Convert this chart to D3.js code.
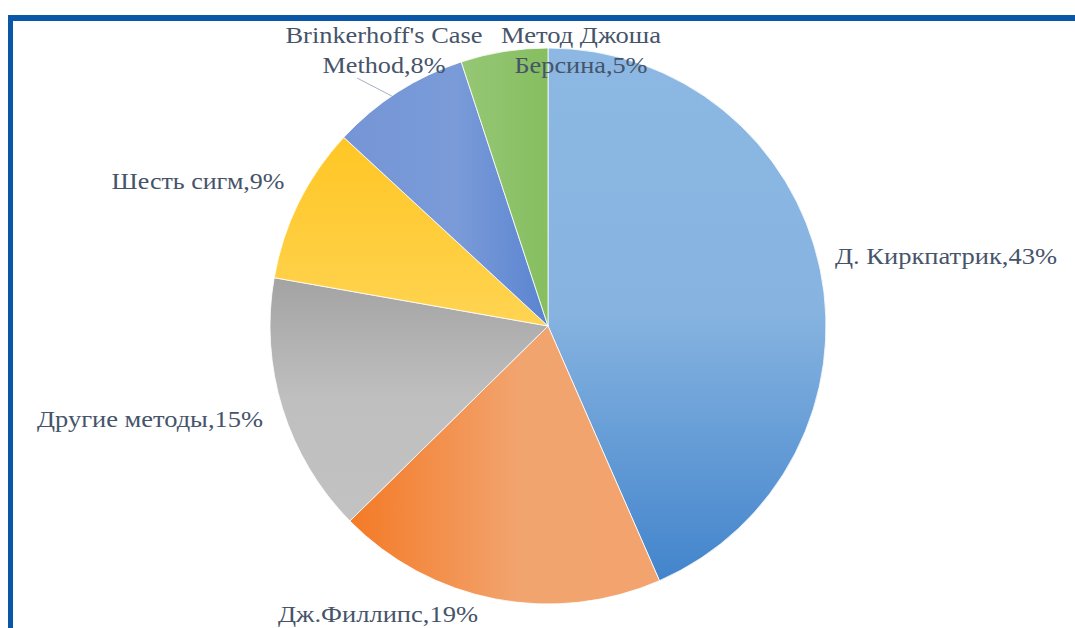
<!DOCTYPE html>
<html>
<head>
<meta charset="utf-8">
<script src="https://cdn.jsdelivr.net/npm/d3@7/dist/d3.min.js"></script>
<style>
  body { margin: 0; background: #fff; }
  .lbl { font-family: 'Liberation Serif', 'Tinos', 'Times New Roman', 'Noto Serif', 'DejaVu Serif', serif; font-size: 24px; fill: #46546a; }
</style>
</head>
<body>
<div id="chart"></div>
<script>
// categories and values (clockwise from 12 o'clock)
let names = ["Д. Киркпатрик", "Дж.Филлипс", "Другие методы", "Шесть сигм", "Brinkerhoff's Case Method", "Метод Джоша Берсина"];
let values = [43, 19, 15, 9, 8, 5];
// label lines as shown in the picture
let labelLines = [
    ["Д. Киркпатрик,43%"],
    ["Дж.Филлипс,19%"],
    ["Другие методы,15%"],
    ["Шесть сигм,9%"],
    ["Brinkerhoff's Case", "Method,8%"],
    ["Метод Джоша", "Берсина,5%"]
];

let width = 1075;
let height = 628;
let cx = 548, cy = 326, radius = 278;

// gradient stops for each slice: vertical or horizontal
let grads = [
    { v: true,  stops: [["0", "#8cb8e3"], ["0.5", "#86b3e0"], ["1", "#4284cc"]] },
    { v: false, stops: [["0", "#f47a26"], ["0.55", "#f2a46f"], ["1", "#f2a36e"]] },
    { v: true,  stops: [["0", "#a3a3a3"], ["0.5", "#bfbfbf"], ["1", "#c2c2c2"]] },
    { v: true,  stops: [["0", "#ffc624"], ["1", "#ffd452"]] },
    { v: false, stops: [["0", "#7595d6"], ["0.55", "#7a9bd8"], ["1", "#5a84d1"]] },
    { v: false, stops: [["0", "#96c775"], ["1", "#86be60"]] }
];

// label placement: anchor x, first baseline, width of each line
let labelPos = [
    { x: 835, y: 264, a: "start",  w: [222] },
    { x: 378, y: 622, a: "middle", w: [200] },
    { x: 150, y: 427, a: "middle", w: [226] },
    { x: 198, y: 189, a: "middle", w: [173] },
    { x: 384, y: 43,  a: "middle", w: [197, 123] },
    { x: 581, y: 43,  a: "middle", w: [160, 133] }
];

let svg = d3.select("#chart").append("svg")
    .attr("width", width)
    .attr("height", height);

// blue frame on top and left
svg.append("rect").attr("x", 8).attr("y", 15).attr("width", width - 8).attr("height", 6).attr("fill", "#0a57a8");
svg.append("rect").attr("x", 8).attr("y", 15).attr("width", 5).attr("height", height - 15).attr("fill", "#0a57a8");

let pie = d3.pie().sort(null).value(function(d) { return d; });
let arcs = pie(values);
let arc = d3.arc().innerRadius(0).outerRadius(radius);

let defs = svg.append("defs");
arcs.forEach(function(d, i) {
    // bounding box of the slice (local coords, pie group is translated)
    let pts = [[0, 0]];
    for (let t = 0; t <= 20; t++) {
        let a = d.startAngle + (d.endAngle - d.startAngle) * t / 20;
        pts.push([radius * Math.sin(a), -radius * Math.cos(a)]);
    }
    let xs = pts.map(p => p[0]), ys = pts.map(p => p[1]);
    let g = defs.append("linearGradient")
        .attr("id", "g" + i)
        .attr("gradientUnits", "userSpaceOnUse");
    if (grads[i].v) {
        g.attr("x1", 0).attr("x2", 0).attr("y1", d3.min(ys)).attr("y2", d3.max(ys));
    } else {
        g.attr("y1", 0).attr("y2", 0).attr("x1", d3.min(xs)).attr("x2", d3.max(xs));
    }
    grads[i].stops.forEach(function(s) {
        g.append("stop").attr("offset", s[0]).attr("stop-color", s[1]);
    });
});

let pieG = svg.append("g").attr("transform", "translate(" + cx + "," + cy + ")");
pieG.selectAll("path")
    .data(arcs)
    .enter()
    .append("path")
    .attr("d", arc)
    .attr("fill", function(d, i) { return "url(#g" + i + ")"; })
    .attr("stroke", "#ffffff")
    .attr("stroke-width", 0.8);

// leader line for Brinkerhoff label
let bArc = arcs[4];
let ang = bArc.startAngle + (bArc.endAngle - bArc.startAngle) * 0.45;
svg.append("line")
    .attr("x1", 357).attr("y1", 78)
    .attr("x2", cx + radius * Math.sin(ang)).attr("y2", cy - radius * Math.cos(ang))
    .attr("stroke", "#a6b0bf")
    .attr("stroke-width", 1);

// labels, one text per line so the width can be matched
labelLines.forEach(function(lines, i) {
    let p = labelPos[i];
    lines.forEach(function(s, j) {
        svg.append("text")
            .attr("class", "lbl")
            .attr("x", p.x)
            .attr("y", p.y + j * 30)
            .attr("text-anchor", p.a)
            .attr("textLength", p.w[j])
            .attr("lengthAdjust", "spacingAndGlyphs")
            .text(s);
    });
});
</script>
</body>
</html>
